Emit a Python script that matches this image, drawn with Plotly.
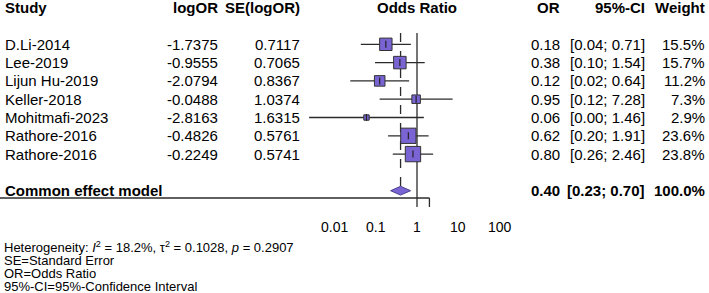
import numpy as np
import plotly.graph_objects as go

# ---------------- data ----------------
studies = ["D.Li-2014", "Lee-2019", "Lijun Hu-2019", "Keller-2018",
           "Mohitmafi-2023", "Rathore-2016", "Rathore-2016"]
log_or = [-1.7375, -0.9555, -2.0794, -0.0488, -2.8163, -0.4826, -0.2249]
se_log_or = [0.7117, 0.7065, 0.8367, 1.0374, 1.6315, 0.5761, 0.5741]
or_text = ["0.18", "0.38", "0.12", "0.95", "0.06", "0.62", "0.80"]
ci_text = ["[0.04; 0.71]", "[0.10; 1.54]", "[0.02; 0.64]", "[0.12; 7.28]",
           "[0.00; 1.46]", "[0.20; 1.91]", "[0.26; 2.46]"]
weights = [15.5, 15.7, 11.2, 7.3, 2.9, 23.6, 23.8]

pooled_label = "Common effect model"
pooled_or = 0.40
pooled_lo = 0.23
pooled_hi = 0.70
pooled_or_text = "0.40"
pooled_ci_text = "[0.23; 0.70]"
pooled_weight_text = "100.0%"

tick_vals = [0.01, 0.1, 1, 10, 100]
tick_text = ["0.01", "0.1", "1", "10", "100"]

headers = ["Study", "logOR", "SE(logOR)", "Odds Ratio", "OR", "95%-CI", "Weight"]
footnotes = [
    "Heterogeneity: <i>I</i><sup>2</sup> = 18.2%, \u03c4<sup>2</sup> = 0.1028, <i>p</i> = 0.2907",
    "SE=Standard Error",
    "OR=Odds Ratio",
    "95%-CI=95%-Confidence Interval",
]

# ---------------- layout constants ----------------
W, H = 709, 293
PX_ONE = 417.0       # pixel of OR = 1
PX_DEC = 41.3        # pixels per decade
ROW0 = 44.3          # pixel of first study row
ROW_H = 18.3         # row height
AXIS_PX = 198.0
TICK_LEN = 9.0
TICKLABEL_PX = 227.0

FONT = "Liberation Sans, Arial, sans-serif"
PURPLE = "#7A64D4"
DARK = "#2b2b2b"


def px_row(p):
    return (p - ROW0) / ROW_H


def px_paper(p):
    return p / W


rows = list(range(len(studies)))
pooled_row = 8
header_row = -2

lo = [np.exp(m - 1.96 * s) for m, s in zip(log_or, se_log_or)]
hi = [np.exp(m + 1.96 * s) for m, s in zip(log_or, se_log_or)]
est = [np.exp(m) for m in log_or]

fig = go.Figure()

top_r = px_row(33)
axis_r = px_row(AXIS_PX)
tick_r = px_row(AXIS_PX + TICK_LEN)
diamond_h = 0.24

# reference lines
fig.add_trace(go.Scatter(x=[1, 1], y=[top_r, axis_r], mode="lines",
                         line=dict(color=DARK, width=1.3),
                         hoverinfo="skip", showlegend=False))
fig.add_trace(go.Scatter(x=[pooled_or, pooled_or], y=[top_r, pooled_row - diamond_h],
                         mode="lines", line=dict(color=DARK, width=1.3, dash="dash"),
                         hoverinfo="skip", showlegend=False))

# confidence interval lines
cx, cy = [], []
for r, a, b in zip(rows, lo, hi):
    cx += [a, b, None]
    cy += [r, r, None]
fig.add_trace(go.Scatter(x=cx, y=cy, mode="lines",
                         line=dict(color=DARK, width=1.3),
                         hoverinfo="skip", showlegend=False))

# squares
sizes = [3.15 * np.sqrt(w) for w in weights]
fig.add_trace(go.Scatter(x=est, y=rows, mode="markers",
                         marker=dict(symbol="square", size=sizes, color=PURPLE,
                                     opacity=1,
                                     line=dict(color="#333333", width=1)),
                         hoverinfo="skip", showlegend=False))
fig.add_trace(go.Scatter(x=est, y=rows, mode="markers",
                         marker=dict(symbol="line-ns", size=5, opacity=1,
                                     line=dict(color="#222222", width=1.2)),
                         hoverinfo="skip", showlegend=False))

# diamond
fig.add_trace(go.Scatter(
    x=[pooled_lo, pooled_or, pooled_hi, pooled_or, pooled_lo],
    y=[pooled_row, pooled_row - diamond_h, pooled_row, pooled_row + diamond_h, pooled_row],
    mode="lines", fill="toself", fillcolor=PURPLE,
    line=dict(color="#4a3f8a", width=1), hoverinfo="skip", showlegend=False))

# odds-ratio axis drawn as shapes above the traces (log axis -> log10 positions)
shapes = [dict(type="line", xref="x", yref="y", layer="above",
               x0=np.log10(tick_vals[0]), x1=np.log10(tick_vals[-1]),
               y0=axis_r, y1=axis_r, line=dict(color=DARK, width=1.3))]
for v in tick_vals:
    shapes.append(dict(type="line", xref="x", yref="y", layer="above",
                       x0=np.log10(v), x1=np.log10(v), y0=axis_r, y1=tick_r,
                       line=dict(color=DARK, width=1.3)))
shapes.append(dict(type="line", xref="x", yref="y", layer="above",
                   x0=0, x1=0, y0=px_row(186), y1=axis_r,
                   line=dict(color=DARK, width=1.3)))

# ---------------- text ----------------
ann = []


def txt(s, xpx, r, anchor="left", size=15, bold=False):
    if bold:
        s = "<b>" + s + "</b>"
    ann.append(dict(text=s, x=px_paper(xpx), xref="paper", y=r, yref="y",
                    xanchor=anchor, yanchor="middle", showarrow=False,
                    font=dict(family=FONT, size=size, color="black")))


col_study, col_logor, col_se, col_or, col_ci, col_w = 3, 220, 302, 562, 647, 707

# headers
txt(headers[0], col_study, header_row, "left", bold=True)
txt(headers[1], col_logor, header_row, "right", bold=True)
txt(headers[2], col_se, header_row, "right", bold=True)
txt(headers[3], PX_ONE, header_row, "center", bold=True)
txt(headers[4], col_or, header_row, "right", bold=True)
txt(headers[5], col_ci, header_row, "right", bold=True)
txt(headers[6], col_w, header_row, "right", bold=True)

for r in rows:
    txt(studies[r], col_study, r, "left")
    txt(f"{log_or[r]:.4f}", col_logor, r, "right")
    txt(f"{se_log_or[r]:.4f}", col_se, r, "right")
    txt(or_text[r], col_or, r, "right")
    txt(ci_text[r], col_ci, r, "right")
    txt(f"{weights[r]:.1f}%", col_w, r, "right")

txt(pooled_label, col_study, pooled_row, "left", bold=True)
txt(pooled_or_text, col_or, pooled_row, "right", bold=True)
txt(pooled_ci_text, col_ci, pooled_row, "right", bold=True)
txt(pooled_weight_text, col_w, pooled_row, "right", bold=True)

# tick labels of the odds-ratio axis, placed on the log x axis
for v, t in zip(tick_vals, tick_text):
    ann.append(dict(text=t, x=np.log10(v), xref="x", y=px_row(TICKLABEL_PX), yref="y",
                    xanchor="center", yanchor="middle", showarrow=False,
                    font=dict(family=FONT, size=14, color="black")))

foot_px = [247, 260, 273, 286]
for s, p in zip(footnotes, foot_px):
    txt(s, 2, px_row(p), "left", size=13)

fig.update_layout(
    width=W, height=H,
    margin=dict(l=0, r=0, t=0, b=0, pad=0, autoexpand=False),
    paper_bgcolor="white", plot_bgcolor="white",
    annotations=ann, shapes=shapes,
    xaxis=dict(type="log", domain=[0, 1],
               range=[-PX_ONE / PX_DEC, (W - PX_ONE) / PX_DEC],
               visible=False, fixedrange=True),
    yaxis=dict(range=[px_row(H), px_row(0)], domain=[0, 1], visible=False,
               fixedrange=True),
    showlegend=False,
)

fig.write_html("out.html", config={"displayModeBar": False},
               post_script="document.body.style.margin='0';")
